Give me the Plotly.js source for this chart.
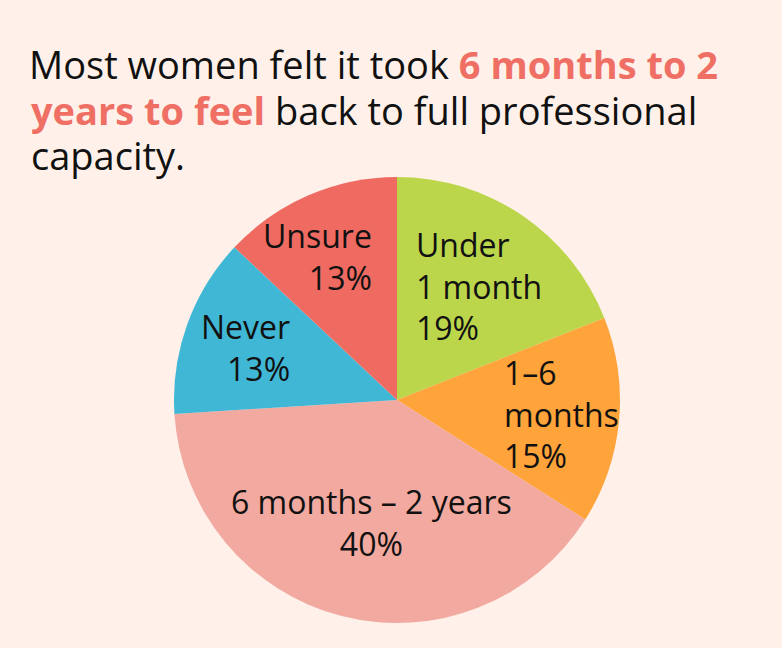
<!DOCTYPE html>
<html>
<head>
<meta charset="utf-8">
<script src="https://cdn.plot.ly/plotly-3.0.1.min.js"></script>
<style>
html,body{margin:0;padding:0;background:#fff1ea;}
#chart{width:782px;height:648px;}
</style>
</head>
<body>
<div id="chart"></div>
<script>
// Data
var categories = ["Under 1 month", "1–6 months", "6 months – 2 years", "Never", "Unsure"];
var values = [19, 15, 40, 13, 13];
var sliceColors = ["#bcd64c", "#ffa33b", "#f2a9a0", "#41b7d6", "#ef6b62"];
var labelLines = [
  ["Under", "1 month"],
  ["1–6", "months"],
  ["6 months – 2 years"],
  ["Never"],
  ["Unsure"]
];
var titleLines = [
  'Most women felt it took <span style="color:#ef6f65"><b>6 months to 2</b></span>',
  '<span style="color:#ef6f65"><b>years to feel</b></span> back to full professional',
  'capacity.'
];

var W = 782, H = 648;
var FONT = "'Open Sans', sans-serif";
var TITLE_SIZE = 38, LABEL_SIZE = 32;

var trace = {
  type: "pie",
  labels: categories,
  values: values,
  sort: false,
  direction: "clockwise",
  rotation: 0,
  textinfo: "none",
  hoverinfo: "label+percent",
  marker: {colors: sliceColors, line: {width: 0}},
  domain: {x: [174 / W, 620 / W], y: [1 - 623 / H, 1 - 177 / H]},
  showlegend: false
};

// label placement (pixel centres of the text blocks)
var labelPos = [
  {x: 414, y: 286, xanchor: "left", align: "left"},
  {x: 502, y: 414, xanchor: "left", align: "left"},
  {x: 371, y: 522, xanchor: "center", align: "center"},
  {x: 292, y: 347, xanchor: "right", align: "right"},
  {x: 374, y: 256, xanchor: "right", align: "right"}
];

var annotations = categories.map(function (c, i) {
  var p = labelPos[i];
  return {
    xref: "paper", yref: "paper",
    x: p.x / W, y: 1 - p.y / H,
    xanchor: p.xanchor, yanchor: "middle", align: p.align,
    showarrow: false,
    text: labelLines[i].join("<br>") + "<br>" + values[i] + "%",
    font: {family: FONT, size: LABEL_SIZE, color: "#111111"}
  };
});

// title lines 2 and 3 (line 1 is layout.title)
var titleMid = [66, 110, 155];
for (var k = 1; k < titleLines.length; k++) {
  annotations.push({
    xref: "paper", yref: "paper",
    x: 29 / W, y: 1 - titleMid[k] / H,
    xanchor: "left", yanchor: "middle", align: "left",
    showarrow: false,
    text: titleLines[k],
    font: {family: FONT, size: TITLE_SIZE, color: "#111111"}
  });
}

var layout = {
  width: W, height: H,
  margin: {l: 0, r: 0, t: 0, b: 0},
  paper_bgcolor: "#fff1ea",
  plot_bgcolor: "#fff1ea",
  title: {
    text: titleLines[0],
    font: {family: FONT, size: TITLE_SIZE, color: "#111111"},
    x: 29 / W, xanchor: "left", xref: "paper",
    y: 1 - titleMid[0] / H, yanchor: "middle", yref: "container"
  },
  annotations: annotations
};

Plotly.newPlot("chart", [trace], layout, {displayModeBar: false, staticPlot: true});
</script>
</body>
</html>
